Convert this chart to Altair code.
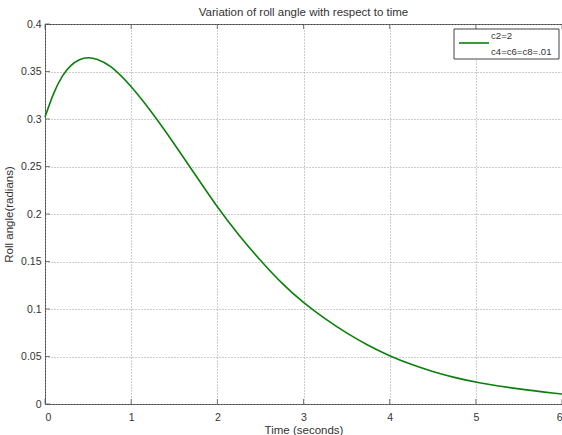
import altair as alt
import pandas as pd

# Roll angle response sampled off the simulation curve
time_s = [0.0, 0.1, 0.2, 0.3, 0.4, 0.5, 0.6, 0.75, 1.0, 1.25, 1.5, 1.75, 2.0,
          2.25, 2.5, 2.75, 3.0, 3.25, 3.5, 3.75, 4.0, 4.25, 4.5, 4.75, 5.0, 5.5, 6.0]
roll_rad = [0.302, 0.328, 0.346, 0.357, 0.363, 0.365, 0.3635, 0.3575, 0.335, 0.306,
            0.274, 0.2405, 0.207, 0.1775, 0.151, 0.1265, 0.1065, 0.0895, 0.0745,
            0.0615, 0.0505, 0.0415, 0.034, 0.0278, 0.0228, 0.0155, 0.0105]
legend_lines = ["c2=2", "c4=c6=c8=.01"]

x_ticks = [0, 1, 2, 3, 4, 5, 6]
y_ticks = [0, 0.05, 0.1, 0.15, 0.2, 0.25, 0.3, 0.35, 0.4]

W, H = 517, 380
FONT = "Liberation Sans"
AXIS_COL = "#444444"
TEXT_COL = "#333333"
LINE_COL = "#0a800a"

df = pd.DataFrame({"t": time_s, "roll": roll_rad})
xt = pd.DataFrame({"v": x_ticks})
yt = pd.DataFrame({"v": y_ticks})
leg = pd.DataFrame({"label": ["\n".join(legend_lines)]})

x_scale = alt.Scale(domain=[0, 6], nice=False, zero=False)
y_scale = alt.Scale(domain=[0, 0.4], nice=False)

axis_common = dict(grid=True, ticks=False, domain=False,
                   gridColor="#9a9a9a", gridDash=[1, 2], gridWidth=1,
                   labelFont=FONT, labelFontSize=10.5, labelColor=TEXT_COL,
                   titleFont=FONT, titleFontSize=11.5, titleFontWeight="normal",
                   titleColor=TEXT_COL)

line = alt.Chart(df).mark_line(strokeWidth=1.6, interpolate="basis", color=LINE_COL).encode(
    x=alt.X("t:Q", scale=x_scale, title="Time (seconds)",
            axis=alt.Axis(values=x_ticks, format="d", labelPadding=8, titlePadding=2,
                          **axis_common)),
    y=alt.Y("roll:Q", scale=y_scale, title="Roll angle(radians)",
            axis=alt.Axis(values=y_ticks, format="~g", labelPadding=4, titlePadding=6,
                          **axis_common)),
)

# Inward-pointing tick marks on the frame
tick_style = dict(color=AXIS_COL, thickness=1, size=5)
xtick_bottom = alt.Chart(xt).mark_tick(orient="vertical", **tick_style).encode(
    x=alt.X("v:Q", scale=x_scale), y=alt.value(H - 2.5))
xtick_top = alt.Chart(xt).mark_tick(orient="vertical", **tick_style).encode(
    x=alt.X("v:Q", scale=x_scale), y=alt.value(2.5))
ytick_left = alt.Chart(yt).mark_tick(orient="horizontal", **tick_style).encode(
    y=alt.Y("v:Q", scale=y_scale), x=alt.value(2.5))

# Boxed legend in the upper-right corner
leg_box = alt.Chart(leg).mark_rect(fill="white", stroke=AXIS_COL, strokeWidth=1).encode(
    x=alt.value(409), x2=alt.value(514), y=alt.value(5), y2=alt.value(35))
leg_line = alt.Chart(leg).mark_rule(color=LINE_COL, strokeWidth=1.6).encode(
    x=alt.value(414), x2=alt.value(444), y=alt.value(19))
leg_text = alt.Chart(leg).mark_text(align="left", baseline="alphabetic", lineBreak="\n",
                                    lineHeight=16, font=FONT, fontSize=9.6,
                                    color=TEXT_COL).encode(
    x=alt.value(446), y=alt.value(14.5), text="label:N")

chart = alt.layer(line, xtick_bottom, xtick_top, ytick_left,
                  leg_box, leg_line, leg_text).properties(
    width=W, height=H,
    background="white",
    title=alt.Title("Variation of roll angle with respect to time", fontSize=11.5,
                    fontWeight="normal", font=FONT, color=TEXT_COL, offset=1),
    autosize=alt.AutoSizeParams(type="none"),
    padding={"left": 45, "top": 24, "right": 0, "bottom": 31},
).configure_view(
    stroke=AXIS_COL, strokeWidth=1
)

chart.save("out.html", embed_options={"renderer": "svg", "actions": False})
